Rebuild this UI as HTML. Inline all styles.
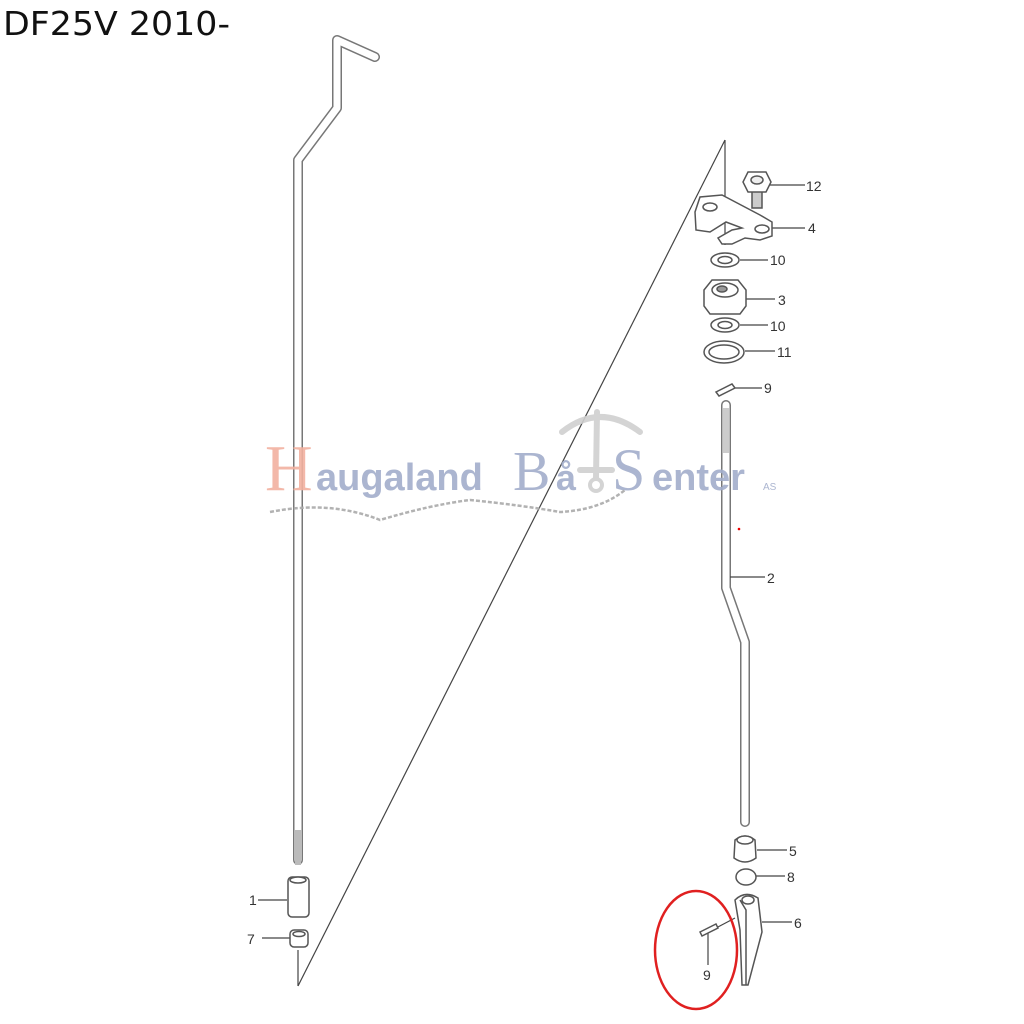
<!DOCTYPE html>
<html><head><meta charset="utf-8"><style>
html,body{margin:0;padding:0;background:#fff;}
svg{display:block}
</style></head><body>
<svg width="1024" height="1024" viewBox="0 0 1024 1024" xmlns="http://www.w3.org/2000/svg" font-family="Liberation Sans, sans-serif">
<rect width="1024" height="1024" fill="#fff"/>
<text x="3" y="35" font-size="33" fill="#111" font-family="DejaVu Sans, sans-serif" textLength="227" lengthAdjust="spacingAndGlyphs">DF25V 2010-</text>

<g fill="none" stroke-linejoin="round" stroke-linecap="round">
<path d="M298,860 L298,160 L337,108 L337,40 L375,57" stroke="#777" stroke-width="10"/>
<path d="M298,860 L298,160 L337,108 L337,40 L375,57" stroke="#fff" stroke-width="7"/>
<path d="M726,405 L726,588 L745,642 L745,822" stroke="#777" stroke-width="10"/>
<path d="M726,405 L726,588 L745,642 L745,822" stroke="#fff" stroke-width="7"/>
</g>
<rect x="295" y="830" width="6" height="35" fill="#bbb"/>
<rect x="723" y="408" width="6" height="45" fill="#ccc"/>

<g stroke="#444" stroke-width="1.2" fill="none">
<line x1="725" y1="140" x2="298" y2="986"/>
<line x1="725" y1="140" x2="725" y2="245"/>
<line x1="298" y1="950" x2="298" y2="986"/>
<line x1="258" y1="900" x2="287" y2="900"/>
<line x1="262" y1="938" x2="290" y2="938"/>
<line x1="768" y1="185" x2="805" y2="185"/>
<line x1="772" y1="228" x2="805" y2="228"/>
<line x1="740" y1="260" x2="768" y2="260"/>
<line x1="742" y1="299" x2="775" y2="299"/>
<line x1="740" y1="325" x2="768" y2="325"/>
<line x1="745" y1="351" x2="775" y2="351"/>
<line x1="732" y1="388" x2="762" y2="388"/>
<line x1="730" y1="577" x2="765" y2="577"/>
<line x1="757" y1="850" x2="787" y2="850"/>
<line x1="752" y1="876" x2="785" y2="876"/>
<line x1="762" y1="922" x2="792" y2="922"/>
<line x1="708" y1="932" x2="708" y2="965"/>
<line x1="716" y1="928" x2="735" y2="918"/>
</g>

<g stroke="#555" stroke-width="1.5" fill="#fff">
<rect x="288" y="877" width="21" height="40" rx="4"/>
<ellipse cx="298" cy="880" rx="8" ry="3"/>
<rect x="290" y="930" width="18" height="17" rx="4"/>
<ellipse cx="299" cy="934" rx="6" ry="2.5"/>
</g>

<g stroke="#555" stroke-width="1.5" fill="#fff">
<rect x="752" y="190" width="10" height="18" fill="#ccc"/>
<polygon points="748,172 766,172 771,182 766,192 748,192 743,182"/>
<ellipse cx="757" cy="180" rx="6" ry="4" fill="#eee"/>
<path d="M695,212 L700,197 L722,195 L760,215 L772,222 L772,236 L760,240 L745,238 L732,244 L722,244 L718,238 L732,230 L742,228 L726,222 L710,232 L696,230 Z"/>
<ellipse cx="710" cy="207" rx="7" ry="4"/>
<ellipse cx="762" cy="229" rx="7" ry="4"/>
<ellipse cx="725" cy="260" rx="14" ry="7"/>
<ellipse cx="725" cy="260" rx="7" ry="3.5"/>
<ellipse cx="725" cy="325" rx="14" ry="7"/>
<ellipse cx="725" cy="325" rx="7" ry="3.5"/>
<path d="M704,290 L712,280 L738,280 L746,290 L746,306 L740,314 L710,314 L704,306 Z"/>
<ellipse cx="725" cy="290" rx="13" ry="7"/>
<ellipse cx="722" cy="289" rx="5" ry="3" fill="#999"/>
<ellipse cx="724" cy="352" rx="20" ry="11"/>
<ellipse cx="724" cy="352" rx="15" ry="7"/>
<path d="M716,392 L732,384 L735,388 L719,396 Z"/>
<path d="M735,840 Q745,832 755,840 L756,858 Q745,866 734,858 Z"/>
<ellipse cx="745" cy="840" rx="8" ry="4"/>
<ellipse cx="746" cy="877" rx="10" ry="8"/>
<path d="M735,900 Q745,890 758,898 L762,932 L748,985 L742,985 L740,930 Z"/>
<path d="M740,900 L746,910 L746,985"/>
<ellipse cx="748" cy="900" rx="6" ry="4"/>
<path d="M700,932 L716,924 L718,928 L702,936 Z"/>
</g>

<g font-size="14" fill="#333">
<text x="249" y="905">1</text>
<text x="247" y="944">7</text>
<text x="806" y="191">12</text>
<text x="808" y="233">4</text>
<text x="770" y="265">10</text>
<text x="778" y="305">3</text>
<text x="770" y="331">10</text>
<text x="777" y="357">11</text>
<text x="764" y="393">9</text>
<text x="767" y="583">2</text>
<text x="789" y="856">5</text>
<text x="787" y="882">8</text>
<text x="794" y="928">6</text>
<text x="703" y="980">9</text>
</g>

<ellipse cx="696" cy="950" rx="41" ry="59" fill="none" stroke="#e02020" stroke-width="2.5"/>
<circle cx="739" cy="529" r="1.3" fill="#e00"/>

<g opacity="0.9">
<text x="265" y="490" font-family="Liberation Serif, serif" font-size="66" fill="#f2b1a0">H</text>
<text x="316" y="490" font-family="Liberation Sans, sans-serif" font-weight="bold" font-size="38" fill="#a3aecb">augaland</text>
<text x="513" y="490" font-family="Liberation Serif, serif" font-size="56" fill="#a3aecb">B</text>
<text x="556" y="490" font-family="Liberation Sans, sans-serif" font-weight="bold" font-size="36" fill="#a3aecb">å</text>
<g stroke="#d0d0d0" fill="none" stroke-width="6" stroke-linecap="round">
<path d="M562,432 Q600,402 640,432"/>
<line x1="597" y1="412" x2="596" y2="478"/>
<line x1="580" y1="470" x2="612" y2="470"/>
<circle cx="596" cy="485" r="6" stroke-width="4"/>
</g>
<text x="612" y="490" font-family="Liberation Serif, serif" font-size="60" fill="#a3aecb">S</text>
<text x="652" y="490" font-family="Liberation Sans, sans-serif" font-weight="bold" font-size="38" fill="#a3aecb">enter</text>
<text x="763" y="490" font-family="Liberation Sans, sans-serif" font-size="10" fill="#a3aecb">AS</text>
<path d="M270,512 Q330,500 380,520 Q430,505 470,500 Q520,505 560,512 Q600,510 625,490" fill="none" stroke="#aaa" stroke-width="2.5" stroke-dasharray="4 2"/>
</g>
</svg>
</body></html>
